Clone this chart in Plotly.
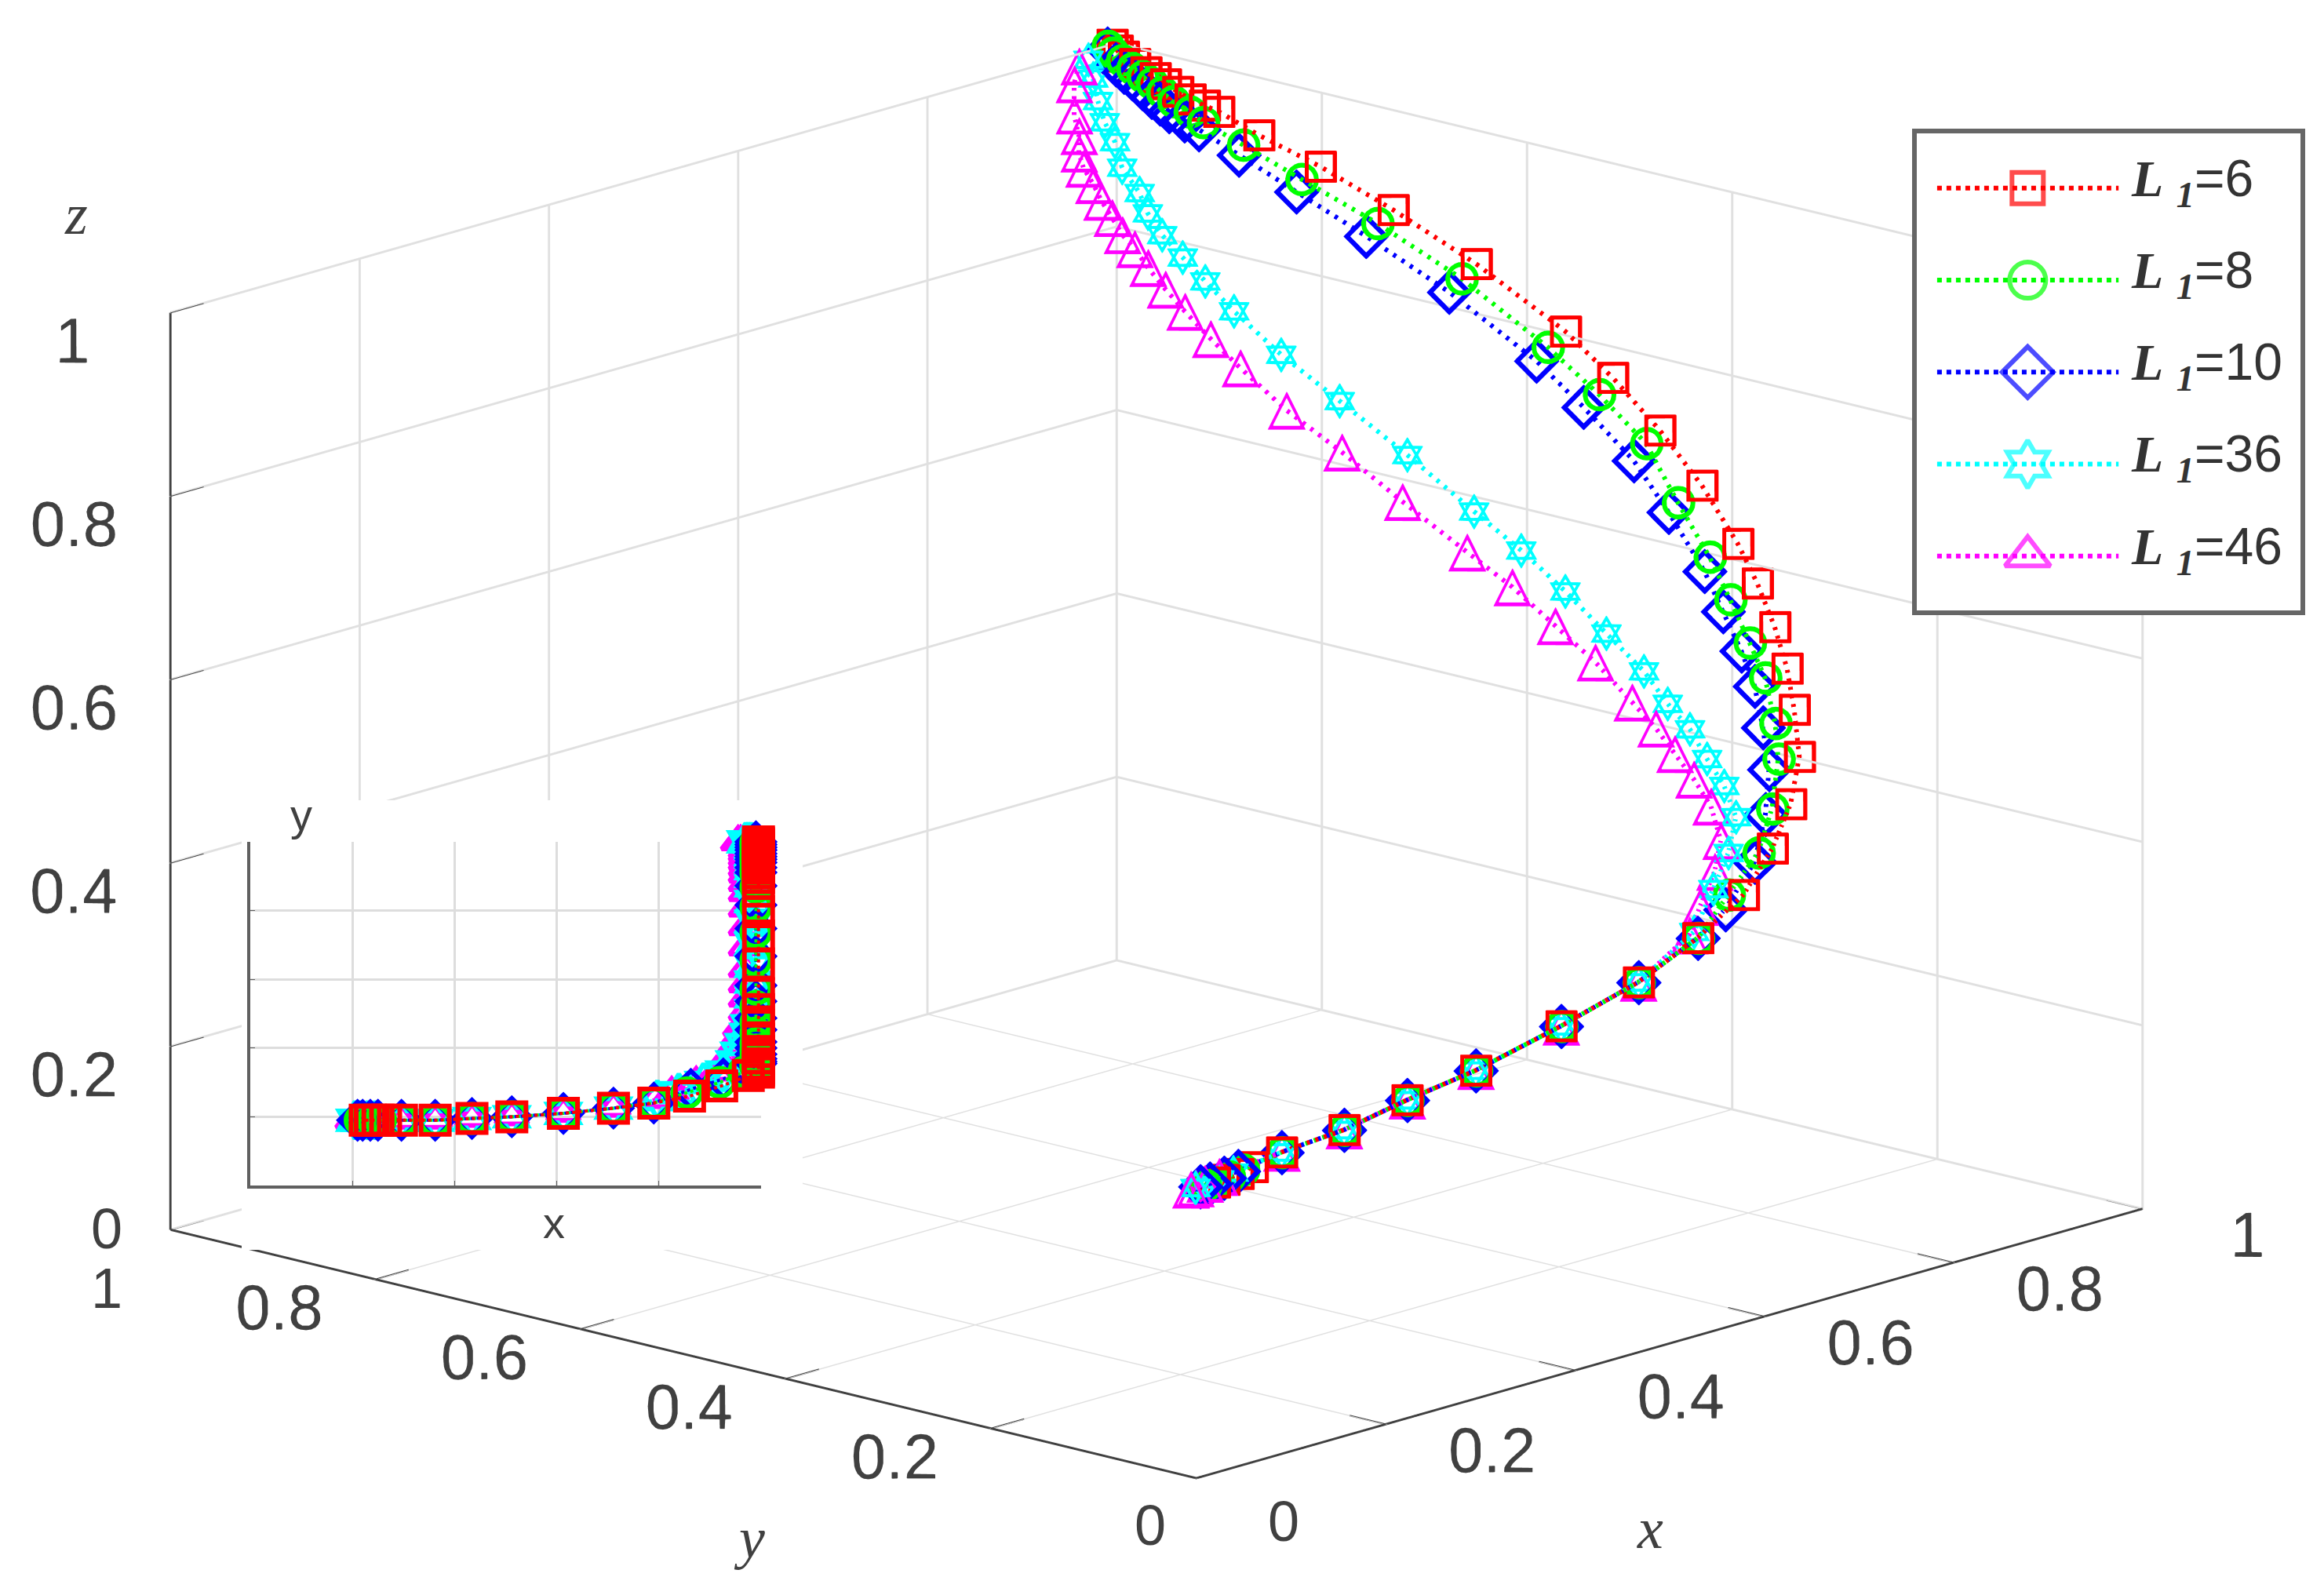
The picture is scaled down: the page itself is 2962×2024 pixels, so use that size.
import plotly.graph_objects as go

names = ["L1=6", "L1=8", "L1=10", "L1=36", "L1=46"]
ticks = [0, 0.2, 0.4, 0.6, 0.8, 1]
tick_len = 0.035

low_x = [0.296, 0.362, 0.434, 0.512, 0.613, 0.711]
low_y = [0.19, 0.19, 0.195, 0.2, 0.21, 0.225]
low_z = [0.217, 0.222, 0.232, 0.24, 0.256, 0.271]

# L1=6
x1 = [0.225, 0.235, 0.25, 0.265] + low_x + [0.79, 0.86, 0.923, 0.975] + [0.995] * 25
y1 = [0.19, 0.19, 0.19, 0.19] + low_y + [0.24, 0.26, 0.29, 0.32, 0.33, 0.335, 0.342, 0.354, 0.371, 0.39,
      0.425, 0.466, 0.512, 0.558, 0.645, 0.726, 0.797, 0.857, 0.896, 0.91, 0.924, 0.936, 0.948, 0.958, 0.967, 0.978, 0.989, 0.995, 1.0]
z1 = [0.205, 0.205, 0.207, 0.21] + low_z + [0.292, 0.313, 0.337, 0.362, 0.405, 0.455, 0.498, 0.54, 0.583, 0.621,
      0.675, 0.724, 0.769, 0.807, 0.857, 0.894, 0.922, 0.94, 0.955, 0.958, 0.961, 0.966, 0.971, 0.975, 0.979, 0.985, 0.99, 0.995, 1.0]

# L1=8
x2 = [0.215, 0.225, 0.24, 0.255] + low_x + [0.79, 0.855, 0.919, 0.966] + [0.99] * 24
y2 = [0.19, 0.19, 0.19, 0.19] + low_y + [0.24, 0.27, 0.3, 0.33, 0.346, 0.349, 0.359, 0.374, 0.393, 0.413,
      0.444, 0.475, 0.521, 0.571, 0.655, 0.737, 0.811, 0.868, 0.907, 0.92, 0.936, 0.947, 0.957, 0.966, 0.976, 0.986, 0.995, 1.0]
z2 = [0.205, 0.205, 0.207, 0.21] + low_z + [0.292, 0.312, 0.331, 0.357, 0.4, 0.438, 0.485, 0.519, 0.561, 0.602,
      0.653, 0.709, 0.75, 0.788, 0.84, 0.878, 0.906, 0.928, 0.942, 0.95, 0.957, 0.964, 0.971, 0.976, 0.982, 0.988, 0.994, 1.0]

# L1=10
x3 = [0.21, 0.22, 0.235, 0.25] + low_x + [0.79, 0.8625, 0.926, 0.97] + [0.99] * 24
y3 = [0.19, 0.19, 0.19, 0.19] + low_y + [0.24, 0.28, 0.31, 0.34, 0.355, 0.361, 0.369, 0.382, 0.4, 0.418,
      0.453, 0.487, 0.536, 0.582, 0.667, 0.748, 0.816, 0.872, 0.911, 0.925, 0.94, 0.949, 0.957, 0.966, 0.976, 0.984, 0.992, 1.0]
z3 = [0.205, 0.205, 0.207, 0.21] + low_z + [0.292, 0.291, 0.316, 0.347, 0.386, 0.43, 0.473, 0.508, 0.546, 0.585,
      0.64, 0.687, 0.732, 0.77, 0.822, 0.861, 0.891, 0.916, 0.933, 0.939, 0.945, 0.951, 0.956, 0.963, 0.971, 0.976, 0.982, 0.997]

# L1=36
x4 = [0.205, 0.215, 0.23, 0.245] + low_x + [0.797, 0.839, 0.8875, 0.928, 0.948, 0.957, 0.966, 0.975, 0.977] + [0.985] * 16 + [0.98, 0.975, 0.97]
y4 = [0.19, 0.19, 0.19, 0.19] + low_y + [0.25, 0.27, 0.3, 0.33, 0.36, 0.385, 0.41, 0.44, 0.465, 0.509, 0.549, 0.592,
      0.638, 0.703, 0.769, 0.826, 0.872, 0.9, 0.922, 0.942, 0.956, 0.964, 0.981, 0.988, 0.998, 1.0, 1.0, 1.0]
z4 = [0.205, 0.205, 0.207, 0.21] + low_z + [0.294, 0.323, 0.34, 0.359, 0.379, 0.399, 0.422, 0.439, 0.467, 0.494, 0.529, 0.562,
      0.592, 0.636, 0.677, 0.712, 0.747, 0.772, 0.792, 0.811, 0.831, 0.851, 0.874, 0.9, 0.919, 0.943, 0.969, 0.991]

# L1=46
x5 = [0.2, 0.205, 0.215, 0.23] + low_x + [0.792, 0.825, 0.873, 0.912, 0.934, 0.943, 0.95, 0.957, 0.959] + [0.97] * 17 + [0.965, 0.96, 0.96, 0.955, 0.955, 0.96]
y5 = [0.19, 0.19, 0.19, 0.19] + low_y + [0.25, 0.27, 0.3, 0.33, 0.36, 0.385, 0.41, 0.435, 0.46, 0.506, 0.545, 0.587, 0.631,
      0.694, 0.753, 0.807, 0.852, 0.881, 0.906, 0.925, 0.942, 0.955, 0.967, 0.977, 0.987, 0.995, 1.0, 1.0, 1.0, 1.0, 1.0, 1.0]
z5 = [0.205, 0.205, 0.207, 0.21] + low_z + [0.292, 0.308, 0.324, 0.338, 0.361, 0.381, 0.4, 0.419, 0.44, 0.468, 0.497, 0.528, 0.554,
      0.592, 0.63, 0.661, 0.695, 0.719, 0.742, 0.761, 0.78, 0.797, 0.809, 0.825, 0.84, 0.856, 0.874, 0.892, 0.911, 0.935, 0.969, 0.987]

series = [
    (x5, y5, z5, "#ff00ff", "triangle-up-open", "△", [60, 62, 64]),
    (x4, y4, z4, "#00ffff", "hexagram-open", "✡", [58, 60, 62]),
    (x3, y3, z3, "#0000ff", "diamond-open", None, [17, 18, 19]),
    (x2, y2, z2, "#00ff00", "circle-open", None, [22, 23, 24]),
    (x1, y1, z1, "#ff0000", "square-open", None, [15, 16, 17]),
]

W, H = 2962, 2024
fig = go.Figure()

for xs, ys, zs, col, sym, glyph, sizes in series:
    fig.add_trace(go.Scatter3d(x=xs, y=ys, z=zs, mode="lines", showlegend=False,
                               line=dict(color=col, width=12, dash="dot")))
    # open 3D symbols have a fixed stroke, stacked sizes thicken it
    for size in sizes:
        if glyph:
            fig.add_trace(go.Scatter3d(x=xs, y=ys, z=zs, mode="text", text=[glyph] * len(xs), showlegend=False,
                                       textposition="middle center",
                                       textfont=dict(size=size, color=col, family="DejaVu Sans")))
        else:
            fig.add_trace(go.Scatter3d(x=xs, y=ys, z=zs, mode="markers", showlegend=False,
                                       marker=dict(symbol=sym, size=size, color=col, line=dict(color=col, width=5))))
    # inset, top view
    fig.add_trace(go.Scatter(x=xs, y=ys, mode="lines+markers", xaxis="x", yaxis="y", showlegend=False,
                             line=dict(color=col, width=4, dash="dot"), cliponaxis=False,
                             marker=dict(symbol=sym, size=36, color=col, line=dict(color=col, width=6))))

# short inward tick marks, the built-in ones only push the labels out
tx, ty, tz = [], [], []
for t in ticks:
    tx += [t, t, None, 0, tick_len, None, 0, tick_len, None]
    ty += [0, tick_len, None, t, t, None, 1, 1, None]
    tz += [0, 0, None, 0, 0, None, t, t, None]
fig.add_trace(go.Scatter3d(x=tx, y=ty, z=tz, mode="lines", showlegend=False, line=dict(color="#404040", width=4)))

# legend drawn on its own small axes
rows = [4.59, 3.59, 2.59, 1.59, 0.59]
leg_x = [0.053, 0.289, 0.526]
leg_size = [40, 46, 50, 46, 50]
leg = list(reversed(series))
for row, s, size in zip(rows, leg, leg_size):
    fig.add_trace(go.Scatter(x=leg_x, y=[row] * 3, mode="lines+markers", xaxis="x2", yaxis="y2", showlegend=False,
                             line=dict(color=s[3], width=6, dash="dot"),
                             marker=dict(symbol=s[4], size=[0, size, 0], color=s[3], line=dict(color=s[3], width=6))))

annots = []
for row, name in zip(rows, names):
    annots.append(dict(x=0.555, y=row + 0.07, xref="x2", yref="y2", xanchor="left", yanchor="middle", showarrow=False,
                       text="<span style=\"font-family:'Liberation Serif'\"><b><i>L</i></b> <sub><b><i>1</i></b></sub></span>=" + name.split("=")[1],
                       font=dict(family="Liberation Sans", size=66, color="#333333")))


def label(text, px, py, fam, size):
    annots.append(dict(x=px / W, y=1 - py / H, xref="paper", yref="paper", showarrow=False, text=text,
                       xanchor="center", yanchor="middle",
                       font=dict(family=fam, size=size, color="#404040")))


label("<i>z</i>", 89, 265, "Liberation Serif", 74)
label("<i>y</i>", 947, 1952, "Liberation Serif", 74)
label("<i>x</i>", 2095, 1940, "Liberation Serif", 74)
label("y", 376, 1030, "Liberation Sans", 56)
label("x", 698, 1550, "Liberation Sans", 56)
# these tick labels collide or get dropped at the box corners, so they are placed here
label("0", 128, 1558, "Liberation Sans", 72)
label("1", 128, 1634, "Liberation Sans", 72)
label("0", 1458, 1936, "Liberation Sans", 72)
label("0", 1628, 1931, "Liberation Sans", 72)

axis3d = dict(range=[0, 1], tickvals=ticks, ticktext=["0", "0.2", "0.4", "0.6", "0.8", "1"], title=dict(text=""),
              tickfont=dict(family="Liberation Sans", size=31, color="#404040"), tickangle=0,
              gridcolor="#e0e0e0", gridwidth=6, showline=True, linecolor="#404040", linewidth=6,
              showbackground=False, zeroline=False, ticks="outside", ticklen=165, tickcolor="white", tickwidth=1,
              showspikes=False, autorange=False)
y_axis3d = dict(axis3d, ticktext=["0", "0.2", "0.4", "0.6", "0.8", " "])
z_axis3d = dict(axis3d, ticktext=[" ", "0.2", "0.4", "0.6", "0.8", "1"])

inset_axis = dict(range=[0, 1], tickvals=ticks, showticklabels=False, ticks="inside", ticklen=6, tickcolor="#606060",
                  gridcolor="#dddddd", gridwidth=3, showline=True, linecolor="#606060", linewidth=4, zeroline=False)

fig.update_layout(
    width=W, height=H, margin=dict(l=0, r=0, t=0, b=0), paper_bgcolor="rgba(0,0,0,0)", plot_bgcolor="white",
    showlegend=False,
    scene=dict(domain=dict(x=[0, 0.99], y=[0.05, 1]), aspectmode="manual", aspectratio=dict(x=1.85, y=1.85, z=1.26),
               xaxis=axis3d, yaxis=y_axis3d, zaxis=z_axis3d, bgcolor="rgba(0,0,0,0)",
               camera=dict(eye=dict(x=-0.786, y=-0.725, z=0.291), up=dict(x=0, y=0, z=1), center=dict(x=0, y=0, z=0),
                           projection=dict(type="orthographic"))),
    xaxis=dict(domain=[311 / W, 962 / W], anchor="y", **inset_axis),
    yaxis=dict(domain=[1 - 1503 / H, 1 - 1065 / H], anchor="x", **inset_axis),
    xaxis2=dict(domain=[2435 / W, 2924 / W], anchor="y2", range=[0, 1], showgrid=False, zeroline=False, showticklabels=False,
                ticks="", showline=True, mirror=True, linecolor="#666666", linewidth=6),
    yaxis2=dict(domain=[1 - 770 / H, 1 - 162 / H], anchor="x2", range=[0, 5.185], showgrid=False, zeroline=False,
                showticklabels=False, ticks="", showline=True, mirror=True, linecolor="#666666", linewidth=6),
    shapes=[dict(type="rect", xref="paper", yref="paper", x0=300 / W, x1=1015 / W, y0=1 - 1585 / H, y1=1 - 1012 / H,
                 fillcolor="white", line=dict(width=0), layer="below")],
    annotations=annots,
)

# the 3D canvas has to sit under the inset and the legend
post = """
var gl = document.querySelector('.gl-container');
gl.parentNode.insertBefore(gl, gl.parentNode.firstChild);
"""
fig.write_html("out.html", post_script=post, config=dict(displayModeBar=False))
